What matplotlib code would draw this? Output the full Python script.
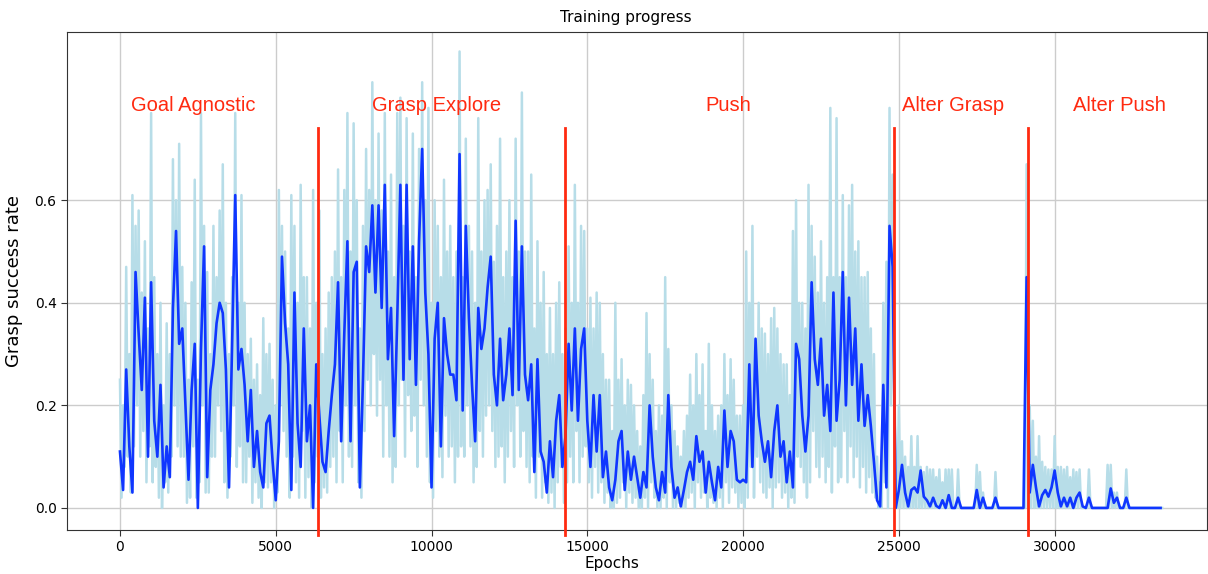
import numpy as np
import matplotlib
matplotlib.use("Agg")
import matplotlib.pyplot as plt

# ---- data (one value per 100 epochs) ----
step_epochs = 100

smoothed = [
    0.11, 0.035, 0.27, 0.12, 0.03, 0.46, 0.34, 0.23, 0.41, 0.10,
    0.44, 0.17, 0.10, 0.24, 0.04, 0.12, 0.06, 0.39, 0.54, 0.32,
    0.35, 0.20, 0.055, 0.23, 0.32, 0.0, 0.31, 0.51, 0.06, 0.23,
    0.28, 0.36, 0.40, 0.38, 0.27, 0.04, 0.32, 0.61, 0.27, 0.31,
    0.24, 0.13, 0.23, 0.08, 0.15, 0.07, 0.04, 0.165, 0.18, 0.09,
    0.015, 0.13, 0.49, 0.36, 0.28, 0.035, 0.42, 0.165, 0.08, 0.35,
    0.13, 0.20, 0.0, 0.28, 0.18, 0.09, 0.07, 0.15, 0.22, 0.28,
    0.44, 0.13, 0.34, 0.52, 0.13, 0.46, 0.48, 0.04, 0.25, 0.51,
    0.46, 0.59, 0.42, 0.59, 0.39, 0.63, 0.29, 0.39, 0.14, 0.37,
    0.63, 0.25, 0.63, 0.29, 0.51, 0.24, 0.52, 0.70, 0.42, 0.30,
    0.04, 0.33, 0.40, 0.12, 0.37, 0.30, 0.26, 0.26, 0.21, 0.69,
    0.19, 0.55, 0.37, 0.24, 0.13, 0.39, 0.31, 0.35, 0.43, 0.49,
    0.26, 0.20, 0.33, 0.21, 0.26, 0.35, 0.22, 0.56, 0.23, 0.51,
    0.26, 0.21, 0.28, 0.07, 0.29, 0.11, 0.09, 0.03, 0.13, 0.06,
    0.17, 0.22, 0.08, 0.14, 0.32, 0.19, 0.35, 0.17, 0.31, 0.35,
    0.17, 0.08, 0.22, 0.11, 0.22, 0.06, 0.11, 0.04, 0.015, 0.055,
    0.13, 0.15, 0.035, 0.11, 0.055, 0.10, 0.06, 0.02, 0.07, 0.04,
    0.20, 0.10, 0.04, 0.015, 0.07, 0.03, 0.22, 0.08, 0.02, 0.04,
    0.003, 0.035, 0.07, 0.09, 0.055, 0.14, 0.09, 0.11, 0.03, 0.09,
    0.05, 0.015, 0.08, 0.04, 0.19, 0.08, 0.15, 0.13, 0.055, 0.05,
    0.055, 0.05, 0.28, 0.08, 0.33, 0.18, 0.13, 0.09, 0.13, 0.06,
    0.15, 0.20, 0.10, 0.13, 0.05, 0.11, 0.04, 0.32, 0.29, 0.18,
    0.11, 0.18, 0.44, 0.29, 0.24, 0.33, 0.18, 0.24, 0.15, 0.42,
    0.17, 0.25, 0.46, 0.20, 0.41, 0.24, 0.35, 0.17, 0.28, 0.16,
    0.22, 0.16, 0.09, 0.015, 0.003, 0.24, 0.04, 0.55, 0.47, 0.0,
    0.035, 0.084, 0.03, 0.003, 0.035, 0.04, 0.03, 0.073, 0.022, 0.015,
    0.003, 0.02, 0.004, 0.0, 0.015, 0.0, 0.025, 0.0, 0.0, 0.02,
    0.0, 0.0, 0.0, 0.0, 0.0, 0.035, 0.0, 0.02, 0.0, 0.0,
    0.0, 0.02, 0.0, 0.0, 0.0, 0.0, 0.0, 0.0, 0.0, 0.0,
    0.0, 0.45, 0.03, 0.084, 0.04, 0.003, 0.025, 0.035, 0.022, 0.04,
    0.073, 0.03, 0.003, 0.02, 0.003, 0.02, 0.0, 0.02, 0.03, 0.003,
    0.0, 0.02, 0.0, 0.0, 0.0, 0.0, 0.0, 0.0, 0.038, 0.01,
    0.02, 0.0, 0.0, 0.02, 0.0, 0.0, 0.0, 0.0, 0.0, 0.0,
    0.0, 0.0, 0.0, 0.0, 0.0,
]

# raw (unsmoothed) success rate: spike tops at each 100 epochs ...
raw_peaks = [
    0.25, 0.20, 0.47, 0.30, 0.61, 0.55, 0.58, 0.42, 0.52, 0.35,
    0.77, 0.45, 0.30, 0.40, 0.20, 0.36, 0.30, 0.68, 0.60, 0.71,
    0.47, 0.40, 0.25, 0.44, 0.64, 0.25, 0.77, 0.55, 0.46, 0.30,
    0.55, 0.45, 0.58, 0.67, 0.40, 0.30, 0.45, 0.77, 0.40, 0.61,
    0.40, 0.30, 0.33, 0.25, 0.28, 0.22, 0.37, 0.30, 0.32, 0.25,
    0.20, 0.62, 0.55, 0.50, 0.35, 0.61, 0.55, 0.40, 0.63, 0.45,
    0.45, 0.35, 0.62, 0.40, 0.58, 0.30, 0.35, 0.42, 0.45, 0.50,
    0.66, 0.45, 0.62, 0.77, 0.50, 0.75, 0.60, 0.35, 0.55, 0.70,
    0.62, 0.83, 0.60, 0.73, 0.58, 0.77, 0.50, 0.65, 0.45, 0.77,
    0.80, 0.55, 0.76, 0.50, 0.73, 0.45, 0.70, 0.83, 0.60, 0.78,
    0.40, 0.60, 0.55, 0.45, 0.64, 0.50, 0.55, 0.45, 0.50, 0.89,
    0.45, 0.72, 0.55, 0.50, 0.40, 0.76, 0.50, 0.60, 0.62, 0.67,
    0.48, 0.55, 0.72, 0.45, 0.50, 0.60, 0.45, 0.72, 0.50, 0.81,
    0.50, 0.50, 0.65, 0.35, 0.52, 0.40, 0.46, 0.30, 0.39, 0.30,
    0.40, 0.44, 0.30, 0.35, 0.51, 0.40, 0.63, 0.40, 0.55, 0.54,
    0.35, 0.41, 0.35, 0.42, 0.40, 0.30, 0.25, 0.25, 0.15, 0.40,
    0.25, 0.29, 0.20, 0.25, 0.24, 0.20, 0.15, 0.12, 0.22, 0.38,
    0.30, 0.25, 0.15, 0.20, 0.18, 0.45, 0.31, 0.20, 0.15, 0.12,
    0.10, 0.15, 0.18, 0.26, 0.20, 0.30, 0.22, 0.28, 0.15, 0.32,
    0.20, 0.15, 0.18, 0.20, 0.30, 0.22, 0.29, 0.25, 0.18, 0.18,
    0.20, 0.50, 0.40, 0.55, 0.30, 0.40, 0.35, 0.34, 0.30, 0.37,
    0.39, 0.35, 0.30, 0.28, 0.28, 0.22, 0.54, 0.60, 0.40, 0.40,
    0.35, 0.63, 0.55, 0.49, 0.42, 0.52, 0.40, 0.45, 0.78, 0.45,
    0.76, 0.45, 0.61, 0.45, 0.59, 0.63, 0.50, 0.52, 0.45, 0.45,
    0.46, 0.35, 0.30, 0.10, 0.05, 0.40, 0.48, 0.78, 0.65, 0.10,
    0.20, 0.13, 0.10, 0.08, 0.14, 0.08, 0.14, 0.08, 0.07, 0.08,
    0.075, 0.075, 0.06, 0.075, 0.05, 0.075, 0.075, 0.075, 0.0, 0.075,
    0.0, 0.0, 0.0, 0.0, 0.0, 0.084, 0.07, 0.03, 0.0, 0.0,
    0.0, 0.07, 0.0, 0.0, 0.0, 0.0, 0.0, 0.0, 0.0, 0.0,
    0.0, 0.67, 0.20, 0.17, 0.10, 0.14, 0.09, 0.08, 0.075, 0.075,
    0.14, 0.08, 0.08, 0.075, 0.08, 0.06, 0.075, 0.07, 0.075, 0.0,
    0.0, 0.075, 0.0, 0.0, 0.0, 0.0, 0.0, 0.084, 0.084, 0.03,
    0.03, 0.0, 0.0, 0.075, 0.0, 0.0, 0.0, 0.0, 0.0, 0.0,
    0.0, 0.0, 0.0, 0.0, 0.0,
]

# ... and the dips in between (50 epochs later)
raw_troughs = [
    0.02, 0.08, 0.10, 0.03, 0.12, 0.20, 0.10, 0.15, 0.05, 0.12,
    0.05, 0.08, 0.02, 0.0, 0.05, 0.03, 0.10, 0.20, 0.12, 0.10,
    0.10, 0.01, 0.02, 0.12, 0.02, 0.05, 0.20, 0.03, 0.03, 0.10,
    0.10, 0.20, 0.15, 0.05, 0.02, 0.10, 0.20, 0.08, 0.12, 0.05,
    0.05, 0.10, 0.01, 0.05, 0.02, 0.0, 0.05, 0.04, 0.05, 0.0,
    0.03, 0.20, 0.15, 0.10, 0.02, 0.10, 0.05, 0.02, 0.15, 0.02,
    0.06, 0.0, 0.05, 0.10, 0.02, 0.04, 0.03, 0.08, 0.10, 0.05,
    0.15, 0.05, 0.20, 0.10, 0.08, 0.20, 0.05, 0.02, 0.15, 0.25,
    0.20, 0.30, 0.18, 0.25, 0.10, 0.20, 0.10, 0.05, 0.08, 0.20,
    0.25, 0.10, 0.22, 0.15, 0.18, 0.08, 0.25, 0.20, 0.10, 0.05,
    0.02, 0.15, 0.10, 0.06, 0.18, 0.10, 0.12, 0.05, 0.10, 0.12,
    0.10, 0.20, 0.12, 0.05, 0.08, 0.15, 0.10, 0.18, 0.20, 0.15,
    0.08, 0.10, 0.12, 0.05, 0.10, 0.15, 0.08, 0.20, 0.10, 0.15,
    0.08, 0.05, 0.10, 0.02, 0.10, 0.02, 0.05, 0.01, 0.03, 0.0,
    0.05, 0.08, 0.01, 0.05, 0.10, 0.05, 0.15, 0.05, 0.10, 0.12,
    0.05, 0.02, 0.08, 0.03, 0.05, 0.01, 0.03, 0.0, 0.0, 0.01,
    0.02, 0.05, 0.0, 0.03, 0.01, 0.02, 0.0, 0.0, 0.02, 0.0,
    0.05, 0.02, 0.0, 0.0, 0.02, 0.0, 0.05, 0.0, 0.0, 0.01,
    0.0, 0.0, 0.02, 0.03, 0.0, 0.05, 0.02, 0.03, 0.0, 0.02,
    0.01, 0.0, 0.02, 0.0, 0.05, 0.01, 0.04, 0.03, 0.0, 0.01,
    0.0, 0.02, 0.08, 0.02, 0.10, 0.05, 0.03, 0.02, 0.04, 0.0,
    0.04, 0.05, 0.02, 0.03, 0.0, 0.02, 0.01, 0.10, 0.08, 0.05,
    0.02, 0.05, 0.15, 0.08, 0.06, 0.10, 0.05, 0.08, 0.03, 0.12,
    0.05, 0.06, 0.15, 0.05, 0.12, 0.06, 0.10, 0.04, 0.08, 0.03,
    0.06, 0.03, 0.02, 0.0, 0.0, 0.05, 0.0, 0.20, 0.25, 0.0,
    0.0, 0.0, 0.0, 0.0, 0.0, 0.0, 0.0, 0.0, 0.0, 0.0,
    0.0, 0.0, 0.0, 0.0, 0.0, 0.0, 0.0, 0.0, 0.0, 0.0,
    0.0, 0.0, 0.0, 0.0, 0.0, 0.0, 0.0, 0.0, 0.0, 0.0,
    0.0, 0.0, 0.0, 0.0, 0.0, 0.0, 0.0, 0.0, 0.0, 0.0,
    0.0, 0.0, 0.0, 0.0, 0.0, 0.0, 0.0, 0.0, 0.0, 0.0,
    0.0, 0.0, 0.0, 0.0, 0.0, 0.0, 0.0, 0.0, 0.0, 0.0,
    0.0, 0.0, 0.0, 0.0, 0.0, 0.0, 0.0, 0.0, 0.0, 0.0,
    0.0, 0.0, 0.0, 0.0, 0.0, 0.0, 0.0, 0.0, 0.0, 0.0,
    0.0, 0.0, 0.0, 0.0, 0.0,
]

phase_boundaries = [6370, 14300, 24850, 29130]
phase_names = ["Goal Agnostic", "Grasp Explore", "Push", "Alter Grasp", "Alter Push"]
phase_label_x = [2350, 10160, 19520, 26750, 32090]
x_ticks = [0, 5000, 10000, 15000, 20000, 25000, 30000]
y_ticks = [0.0, 0.2, 0.4, 0.6]

# ---- plot ----
n = min(len(raw_peaks), len(raw_troughs))
epochs = np.arange(len(smoothed)) * step_epochs
raw_x = np.empty(2 * n)
raw_y = np.empty(2 * n)
raw_x[0::2] = np.arange(n) * step_epochs
raw_x[1::2] = np.arange(n) * step_epochs + step_epochs / 2
raw_y[0::2] = raw_peaks[:n]
raw_y[1::2] = raw_troughs[:n]

fig = plt.figure(figsize=(12.08, 5.74), dpi=100)
ax = fig.add_axes([67 / 1208, 1 - 530 / 574, 1140 / 1208, 498 / 574])

ax.plot(raw_x, raw_y, color="#b7dde8", lw=1.8, zorder=2)
ax.plot(epochs, smoothed, color="#0f36ff", lw=1.9, zorder=3)

for b in phase_boundaries:
    ax.plot([b, b], [-0.053, 0.74], color="#ff2a10", lw=2.0, zorder=4, clip_on=False)

for name, xpos in zip(phase_names, phase_label_x):
    ax.text(xpos, 0.784, name, color="#ff2a10", fontsize=14.5,
            family="Liberation Sans", ha="center", va="center", zorder=5)

ax.set_xlim(-1700, 34890)
ax.set_ylim(-0.043, 0.928)
ax.set_xticks(x_ticks)
ax.set_yticks(y_ticks)
ax.tick_params(labelsize=10, color="#333333", length=4)
ax.grid(True, color="#cccccc", lw=1.0, zorder=0)
ax.set_axisbelow(True)
for s in ax.spines.values():
    s.set_color("#333333")

ax.set_title("Training progress", fontsize=11, x=0.49, pad=7)
ax.set_xlabel("Epochs", fontsize=11, labelpad=1)
ax.xaxis.label.set_x(0.478)
ax.set_ylabel("Grasp success rate", fontsize=13, labelpad=8)

fig.savefig("out.png", dpi=100)
